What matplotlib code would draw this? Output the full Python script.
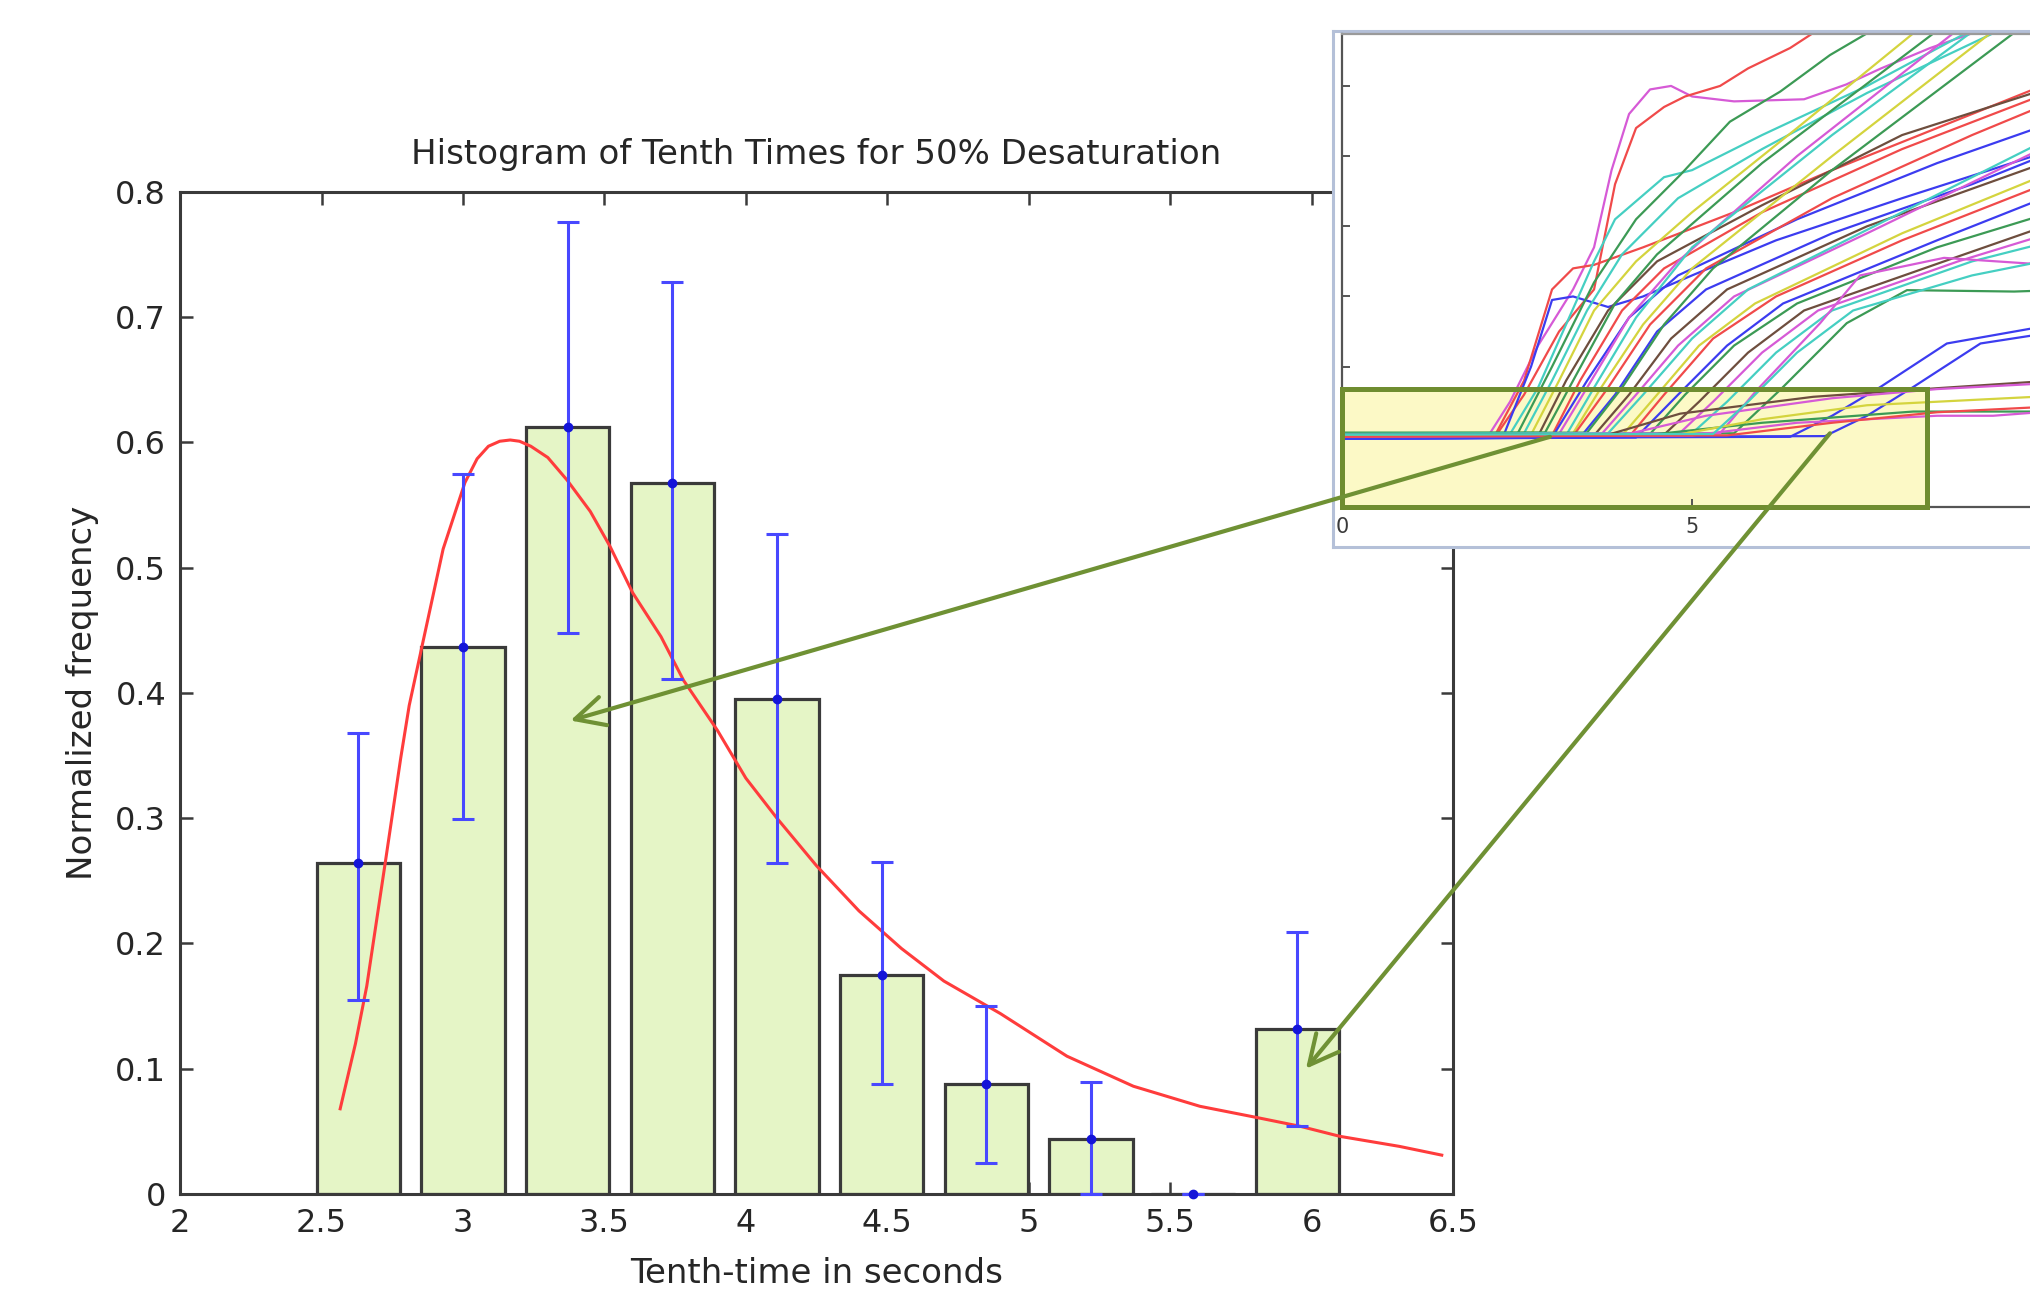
import matplotlib.pyplot as plt
from matplotlib.patches import Rectangle, ConnectionPatch
from matplotlib.ticker import FuncFormatter

plt.rcParams.update({
    'font.family': 'DejaVu Sans',
    'text.color': '#262626',
    'axes.labelcolor': '#262626',
})

# ---------------- histogram data ----------------
bin_centers = [2.63, 3.00, 3.37, 3.74, 4.11, 4.48, 4.85, 5.22, 5.58, 5.95]
freq = [0.264, 0.437, 0.612, 0.568, 0.395, 0.175, 0.088, 0.044, 0.0, 0.132]
err_hi = [0.368, 0.575, 0.776, 0.728, 0.527, 0.265, 0.150, 0.089, 0.0, 0.209]
err_lo = [0.155, 0.299, 0.448, 0.411, 0.264, 0.088, 0.025, 0.0, 0.0, 0.054]

# fitted distribution
fit_x = [2.566, 2.62, 2.66, 2.725, 2.78, 2.81, 2.855, 2.93, 3.007, 3.05, 3.09, 3.13, 3.167,
         3.20, 3.24, 3.30, 3.368, 3.45, 3.52, 3.60, 3.70, 3.78, 3.90, 4.00, 4.11, 4.25,
         4.40, 4.55, 4.70, 4.90, 5.135, 5.37, 5.605, 5.807, 5.96, 6.10, 6.31, 6.46]
fit_y = [0.068, 0.120, 0.166, 0.264, 0.348, 0.390, 0.437, 0.515, 0.568, 0.587, 0.597, 0.601, 0.602,
         0.601, 0.597, 0.588, 0.570, 0.545, 0.517, 0.480, 0.445, 0.410, 0.370, 0.332, 0.300, 0.262,
         0.226, 0.196, 0.170, 0.144, 0.110, 0.086, 0.070, 0.061, 0.054, 0.046, 0.038, 0.031]

# ---------------- inset traces (desaturation curves) ----------------
R, G, B, C, M, Y, K = '#f04a4a', '#3c9a55', '#3c3cf0', '#45cfc2', '#d65ad6', '#d4d43e', '#6e4e3e'

trace_colors = [M, R, R, B, C, G, C, Y, K, G, R, B, M, C, Y, R, B, G, K, M,
                C, Y, R, B, G, K, M, C, G, M, B, B, K, M, G, M, Y, R, C]
trace_t = [
    [0, 2.1, 2.4, 2.8, 3.3, 3.6, 3.85, 4.1, 4.4, 4.7, 5.0, 5.6, 6.6, 7.2, 7.7, 8.4, 9.0, 9.6],
    [0, 2.2, 2.6, 3.1, 3.6, 3.9, 4.2, 4.6, 4.9, 5.4, 5.8, 6.4, 6.8],
    [0, 2.2, 2.6, 3.0, 3.3, 3.6, 4.3, 5.6, 7.0, 8.5, 10.5],
    [0, 2.3, 2.7, 3.0, 3.3, 3.8, 4.3, 5.0, 6.2, 8.0, 10.5],
    [0, 2.4, 2.8, 3.2, 3.6, 3.9, 4.6, 5.0, 6.0, 7.5, 9.0],
    [0, 2.5, 3.0, 3.6, 4.2, 4.83, 5.54, 6.26, 6.97, 7.5],
    [0, 2.6, 3.0, 3.5, 4.0, 4.8, 6.0, 7.5, 9.3],
    [0, 2.7, 3.1, 3.6, 4.2, 5.0, 6.5, 8.16],
    [0, 2.8, 3.2, 3.8, 4.5, 6.0, 8.0, 10.5],
    [0, 2.9, 3.3, 3.9, 4.5, 6.0, 8.45],
    [0, 3.0, 3.4, 4.0, 4.6, 6.0, 8.0, 10.5],
    [0, 3.0, 3.5, 4.1, 4.8, 6.5, 8.5, 10.5],
    [0, 3.1, 3.5, 4.1, 4.8, 6.5, 8.73],
    [0, 3.2, 3.6, 4.2, 5.0, 7.0, 8.97],
    [0, 3.3, 3.7, 4.3, 5.0, 7.0, 9.26],
    [0, 3.3, 3.8, 4.4, 5.2, 7.0, 9.0, 10.5],
    [0, 3.4, 3.9, 4.5, 5.2, 7.0, 9.0, 10.5],
    [0, 3.5, 4.0, 4.6, 5.3, 7.0, 9.59],
    [0, 3.6, 4.1, 4.7, 5.5, 7.5, 10.5],
    [0, 3.7, 4.2, 4.8, 5.6, 7.5, 10.5],
    [0, 3.8, 4.3, 5.0, 5.8, 8.0, 10.5],
    [0, 4.0, 4.5, 5.1, 5.9, 8.0, 10.5],
    [0, 4.1, 4.6, 5.3, 6.2, 8.0, 10.5],
    [0, 4.2, 4.8, 5.5, 6.3, 8.5, 10.5],
    [0, 4.4, 4.9, 5.6, 6.5, 8.5, 10.5],
    [0, 4.6, 5.1, 5.8, 6.6, 8.6, 10.5],
    [0, 4.8, 5.3, 6.0, 6.8, 8.8, 10.5],
    [0, 5.0, 5.5, 6.2, 7.0, 9.0, 10.5],
    [0, 5.6, 6.26, 7.21, 8.07, 9.6, 10.5],
    [0, 5.4, 5.93, 6.83, 7.4, 8.6, 9.8, 10.5],
    [0, 6.4, 7.0, 7.69, 8.64, 9.83, 10.5],
    [0, 6.9, 7.5, 8.16, 9.12, 9.9, 10.5],
    [0, 3.8, 4.83, 6.73, 8.16, 9.83, 10.5],
    [0, 4.0, 5.2, 7.0, 8.5, 9.83, 10.5],
    [0, 4.5, 6.0, 8.16, 9.83, 10.5],
    [0, 5.0, 6.5, 8.5, 9.3, 9.83, 10.5],
    [0, 4.8, 6.0, 7.5, 10.5],
    [0, 5.5, 7.0, 8.5, 10.5],
    [0, 5.3, 5.8, 6.5, 7.3, 9.0, 10.5],
]
trace_y = [
    [1.02, 1.03, 1.5, 2.3, 3.1, 3.7, 4.8, 5.6, 5.95, 6.0, 5.85, 5.78, 5.81, 6.02, 6.25, 6.54, 6.75, 6.9],
    [1.00, 1.02, 1.6, 2.5, 3.1, 4.6, 5.4, 5.7, 5.85, 6.0, 6.25, 6.54, 6.8],
    [1.04, 1.05, 1.8, 3.1, 3.4, 3.45, 3.7, 4.2, 4.8, 5.4, 6.2],
    [0.98, 1.00, 2.0, 2.95, 3.0, 2.85, 3.0, 3.3, 3.8, 4.4, 5.2],
    [1.03, 1.04, 1.7, 2.6, 3.5, 4.1, 4.7, 4.8, 5.3, 6.0, 6.8],
    [1.01, 1.03, 2.0, 3.2, 4.1, 4.73, 5.49, 5.92, 6.44, 6.75],
    [1.05, 1.05, 1.8, 2.8, 3.6, 4.4, 5.1, 5.9, 6.75],
    [1.02, 1.03, 1.8, 2.8, 3.5, 4.2, 5.4, 6.75],
    [0.99, 1.01, 1.8, 2.8, 3.5, 4.3, 5.3, 6.1],
    [1.06, 1.06, 1.8, 2.9, 3.6, 4.9, 6.75],
    [1.00, 1.02, 1.8, 2.8, 3.4, 4.2, 5.1, 6.06],
    [0.97, 0.99, 1.8, 2.7, 3.3, 4.1, 4.9, 5.6],
    [1.03, 1.04, 1.7, 2.7, 3.5, 5.0, 6.75],
    [1.01, 1.02, 1.7, 2.7, 3.7, 5.3, 6.75],
    [1.04, 1.05, 1.7, 2.6, 3.4, 5.0, 6.75],
    [0.99, 1.01, 1.7, 2.6, 3.4, 4.4, 5.3, 5.92],
    [0.97, 0.99, 1.6, 2.5, 3.1, 3.9, 4.6, 5.2],
    [1.05, 1.06, 1.7, 2.6, 3.4, 4.8, 6.75],
    [1.00, 1.02, 1.6, 2.4, 3.1, 4.0, 5.07],
    [1.02, 1.03, 1.6, 2.3, 3.0, 3.9, 5.35],
    [1.04, 1.05, 1.6, 2.4, 3.1, 4.2, 5.45],
    [1.01, 1.02, 1.6, 2.3, 2.9, 3.9, 4.92],
    [0.98, 1.00, 1.6, 2.4, 3.0, 3.8, 4.78],
    [0.97, 0.99, 1.6, 2.3, 2.9, 3.8, 4.59],
    [1.03, 1.04, 1.6, 2.3, 2.9, 3.7, 4.31],
    [1.01, 1.03, 1.5, 2.2, 2.8, 3.5, 4.16],
    [1.02, 1.03, 1.5, 2.2, 2.8, 3.5, 4.02],
    [1.04, 1.05, 1.5, 2.2, 2.8, 3.5, 3.88],
    [1.02, 1.05, 1.67, 2.62, 3.09, 3.07, 3.10],
    [1.03, 1.05, 1.67, 2.62, 3.3, 3.55, 3.47, 3.50],
    [0.98, 1.00, 1.3, 1.71, 2.33, 2.54, 2.58],
    [0.99, 1.01, 1.3, 1.71, 2.33, 2.45, 2.50],
    [1.02, 1.03, 1.33, 1.57, 1.67, 1.78, 1.80],
    [1.01, 1.02, 1.30, 1.55, 1.68, 1.75, 1.78],
    [1.03, 1.04, 1.20, 1.36, 1.36, 1.37],
    [1.00, 1.02, 1.20, 1.30, 1.30, 1.34, 1.36],
    [1.02, 1.03, 1.25, 1.45, 1.60],
    [1.00, 1.02, 1.20, 1.35, 1.45],
    [1.03, 1.04, 1.5, 2.2, 2.8, 3.3, 3.6],
]

# zoomed region of the inset (time range, level)
box_t = [0.0, 8.36]
box_level = 1.68

# arrow anchors: (inset point, histogram point)
arrow_pairs = [((2.97, 1.00), (3.38, 0.378)),
               ((6.97, 1.05), (5.98, 0.100))]

# ---------------- figure ----------------
fig = plt.figure(figsize=(20.3, 12.93), dpi=100)
ax = fig.add_axes([0.0887, 0.0766, 0.6271, 0.7749])

spine_col = '#3a3a3a'
ax.bar(bin_centers, freq, width=0.295, color='#e5f5c6', edgecolor=spine_col,
       linewidth=2.3, zorder=2)
yerr = [[f - lo for f, lo in zip(freq, err_lo)], [hi - f for f, hi in zip(freq, err_hi)]]
ax.errorbar(bin_centers, freq, yerr=yerr, fmt='o', color='#4848ff', ecolor='#4848ff',
            elinewidth=2.2, capsize=8, capthick=2.2, markersize=6,
            markerfacecolor='#1414d8', markeredgecolor='#1414d8', zorder=4, clip_on=False)
ax.plot(fit_x, fit_y, color='#ff3c3c', linewidth=2.2, zorder=3)

ax.set_xlim(2, 6.5)
ax.set_ylim(0, 0.8)
ax.set_xticks([2, 2.5, 3, 3.5, 4, 4.5, 5, 5.5, 6, 6.5])
ax.set_yticks([0, 0.1, 0.2, 0.3, 0.4, 0.5, 0.6, 0.7, 0.8])
fmt = FuncFormatter(lambda v, p: '%g' % v)
ax.xaxis.set_major_formatter(fmt)
ax.yaxis.set_major_formatter(fmt)
ax.tick_params(direction='in', top=True, right=True, length=9, width=1.8,
               color=spine_col, labelcolor='#262626', labelsize=23, pad=10)
for s in ax.spines.values():
    s.set_color(spine_col)
    s.set_linewidth(2.2)
ax.set_title('Histogram of Tenth Times for 50% Desaturation', fontsize=24.5, pad=20)
ax.set_xlabel('Tenth-time in seconds', fontsize=24.5, labelpad=13)
ax.set_ylabel('Normalized frequency', fontsize=24.5, labelpad=12)

# pasted-in frame for the inset
frame = fig.add_axes([0.6567, 0.5770, 0.3483, 0.3991], zorder=3)
frame.set_xticks([])
frame.set_yticks([])
for s in frame.spines.values():
    s.set_color('#b4c0d8')
    s.set_linewidth(2.2)

ins = fig.add_axes([0.6611, 0.6079, 0.3621, 0.3658], zorder=4)
ins.add_patch(Rectangle((box_t[0], 0), box_t[1] - box_t[0], box_level,
                        facecolor='#fcf9c6', edgecolor='none', zorder=0))
for col, tt, yy in zip(trace_colors, trace_t, trace_y):
    ins.plot(tt, yy, color=col, linewidth=1.6, zorder=2)
ins.add_patch(Rectangle((box_t[0], 0), box_t[1] - box_t[0], box_level,
                        facecolor='none', edgecolor='#6f8d30', linewidth=3.6,
                        zorder=5, clip_on=False))
ins.set_xlim(0, 10.5)
ins.set_ylim(0, 6.74)
ins.set_xticks([0, 5, 10])
ins.set_xticklabels(['0', '5', ''])
ins.set_yticks([0, 1, 2, 3, 4, 5, 6])
ins.set_yticklabels([])
ins.tick_params(direction='in', length=6, width=1.4, color='#555555',
                labelsize=15, labelcolor='#3a3a3a', pad=7)
for s in ins.spines.values():
    s.set_color('#555555')
    s.set_linewidth(1.6)
ins.spines['top'].set_color('#9a9a9a')

for (pa, pb) in arrow_pairs:
    con = ConnectionPatch(xyA=pa, coordsA=ins.transData, xyB=pb, coordsB=ax.transData,
                          arrowstyle='->,head_length=0.7,head_width=0.35',
                          mutation_scale=30, color='#6f9134', linewidth=3.0)
    con.set_zorder(10)
    fig.add_artist(con)

fig.savefig('out.png', dpi=100, facecolor='white')
